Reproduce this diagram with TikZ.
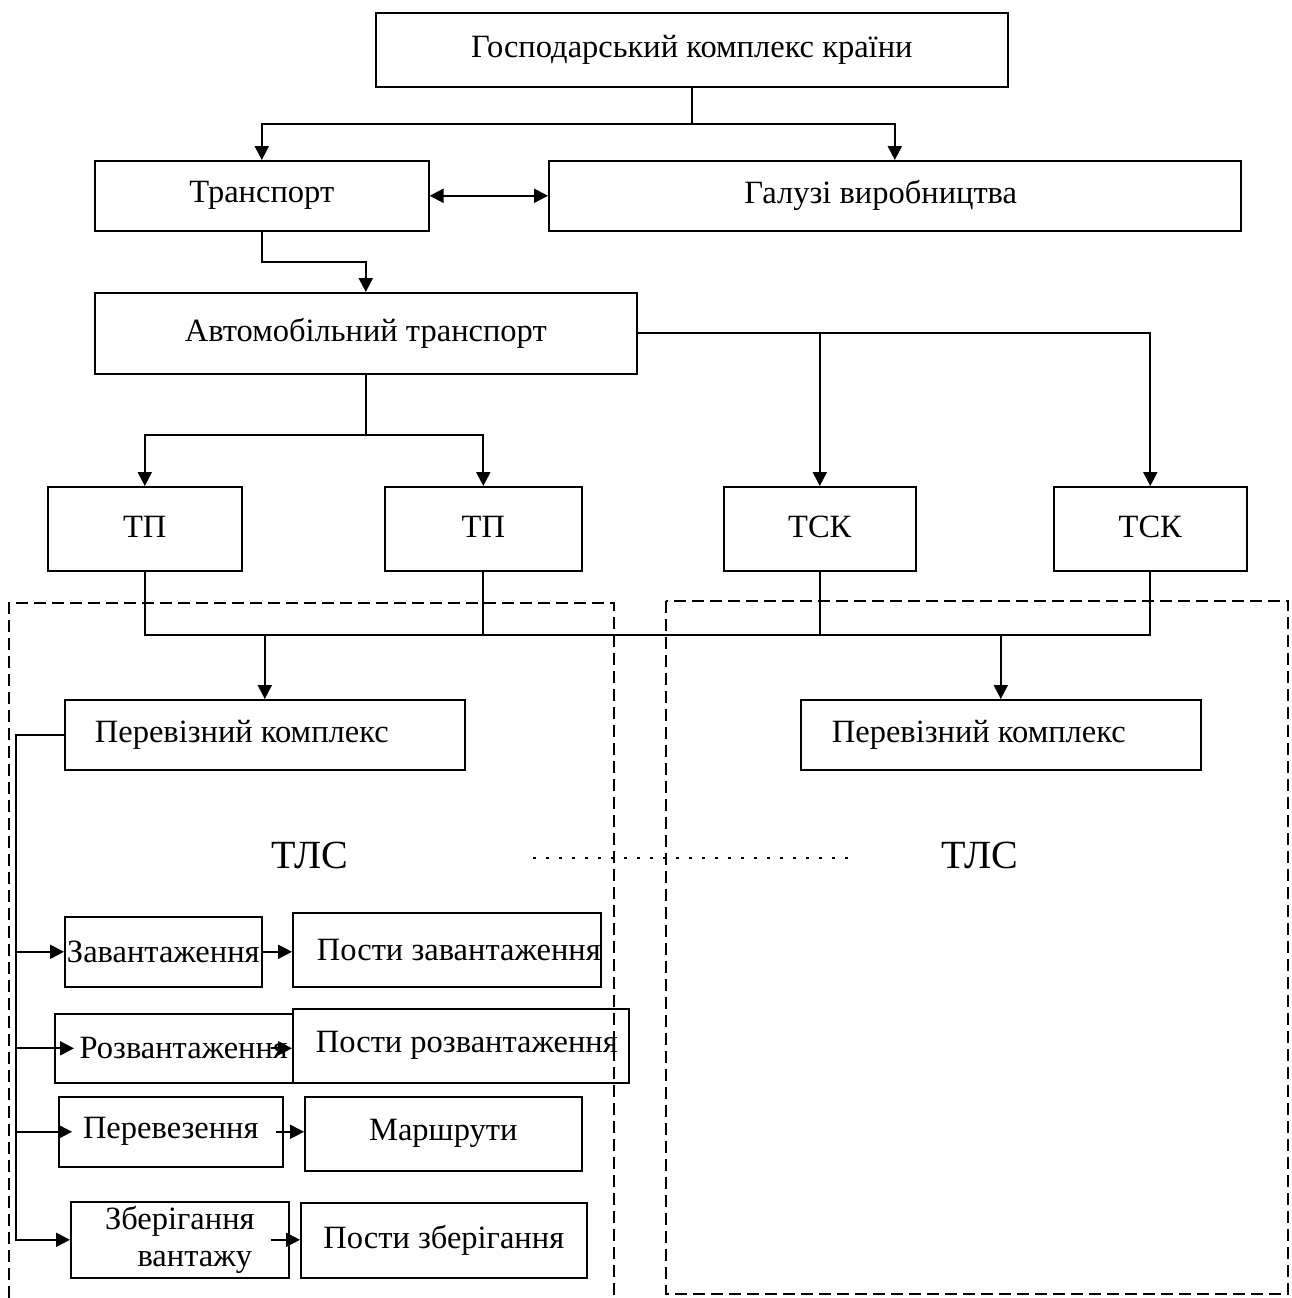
\documentclass[tikz,border=0pt]{standalone}
\usepackage{fontspec}
\setmainfont{Liberation Serif}
\usetikzlibrary{arrows.meta,calc}
\newcommand\shl[2]{\hspace*{-#1}\hspace*{-#1}#2}
\newcommand\shr[2]{#2\hspace*{-#1}\hspace*{-#1}}
\begin{document}
\begin{tikzpicture}[x=1pt,y=-1pt,
  box/.style 2 args={draw, line width=1.6pt, inner sep=0pt, anchor=north west,
     minimum width=#1, minimum height=#2, font=\fontsize{32.5}{37}\selectfont},
  conn/.style={line width=2.2pt},
  arr/.style={conn, -{Triangle[length=14pt,width=14pt]}},
  darr/.style={conn, {Triangle[length=14pt,width=14pt]}-{Triangle[length=14pt,width=14pt]}},
  region/.style={line width=1.8pt, dash pattern=on 12pt off 6pt},
  dotline/.style={line width=2.8pt, dash pattern=on 2.8pt off 10.2pt},
  big/.style={font=\fontsize{40}{44}\selectfont, inner sep=0pt}
]
\useasboundingbox (0,0) rectangle (1291,1298);

% regions
\draw[region] (9,1298) -- (9,603) -- (614,603) -- (614,1298);
\draw[region] (666,601) rectangle (1288,1294);

% boxes
\node[box={632pt}{74pt}] (gk) at (375,12) {Господарський комплекс країни};
\node[box={334pt}{70pt}] (tr) at (94,160) {Транспорт};
\node[box={692pt}{70pt}] (gal) at (548,160) {\shl{14pt}{Галузі виробництва}};
\node[box={542pt}{81pt}] (avto) at (94,292) {\raisebox{6pt}{Автомобільний транспорт}};
\node[box={194pt}{84pt}] (tp1) at (47,486) {\raisebox{4pt}{ТП}};
\node[box={197pt}{84pt}] (tp2) at (384,486) {\raisebox{4pt}{ТП}};
\node[box={192pt}{84pt}] (tsk1) at (723,486) {\raisebox{4pt}{ТСК}};
\node[box={193pt}{84pt}] (tsk2) at (1053,486) {\raisebox{4pt}{ТСК}};
\node[box={400pt}{70pt}] (p1) at (64,699) {\shl{23pt}{Перевізний комплекс}};
\node[box={400pt}{70pt}] (p2) at (800,699) {\shl{22pt}{Перевізний комплекс}};
\node[box={197pt}{70pt}] (zav) at (64,916) {Завантаження};
\node[box={308pt}{74pt}] (pz) at (292,912) {\shr{12pt}{Пости завантаження}};
\node[box={238pt}{69pt}] (rozv) at (54,1013) {\shr{10pt}{Розвантаження}};
\node[box={336pt}{74pt}] (prz) at (292,1008) {\shr{6pt}{Пости розвантаження}};
\node[box={224pt}{70pt}] (perev) at (58,1096) {Перевезення};
\node[box={277pt}{74pt}] (marsh) at (304,1096) {Маршрути};
\node[box={218pt}{76pt}, align=center] (zb) at (70,1201) {Зберігання\\\hspace*{30pt}вантажу};
\node[box={286pt}{75pt}] (pzb) at (300,1202) {Пости зберігання};

% labels
\node[big] (tls1) at (310,855) {ТЛС};
\node[big] (tls2) at (980,855) {ТЛС};
\coordinate (d1) at (533,858);
\coordinate (d2) at (850,858);
\draw[dotline] (d1) -- (d2);

% connectors
\draw[conn] (gk.south) -- ++(0,36) coordinate (j1);
\draw[arr] (j1) -| (tr.north);
\draw[arr] (j1) -| (gal.north);
\draw[darr] (tr.east) -- (gal.west);
\draw[arr] (tr.south) -- ++(0,30) -| (avto.north);
\draw[arr] (avto.east) -| (tsk2.north);
\draw[arr] (avto.east -| tsk1.north) -- (tsk1.north);
\draw[conn] (avto.south) -- ++(0,60) coordinate (j2);
\draw[arr] (j2) -| (tp1.north);
\draw[arr] (j2) -| (tp2.north);

\coordinate (bus) at (0,635);
\draw[conn] (tp1.south) |- (bus -| tsk2.south) -- (tsk2.south);
\draw[conn] (tp2.south) -- (tp2.south |- bus);
\draw[conn] (tsk1.south) -- (tsk1.south |- bus);
\draw[arr] (bus -| p1.north) -- (p1.north);
\draw[arr] (bus -| p2.north) -- (p2.north);

\coordinate (sp) at (16,0);
\draw[arr] (p1.west) -- (p1.west -| sp) |- (zb.west);
\draw[arr] (zav.west -| sp) -- (zav.west);
\draw[arr] (rozv.west -| sp) -- ($(rozv.west)+(20,0)$);
\draw[arr] (perev.west -| sp) -- ($(perev.west)+(14,0)$);

\draw[arr] (zav.east) -- (zav.east -| pz.west);
\draw[arr] ($(rozv.east)+(-23,0)$) -- (prz.west |- rozv.east);
\draw[arr] ($(perev.east)+(-8,0)$) -- (perev.east -| marsh.west);
\draw[arr] ($(zb.east)+(-19,0)$) -- (zb.east -| pzb.west);
\end{tikzpicture}
\end{document}
